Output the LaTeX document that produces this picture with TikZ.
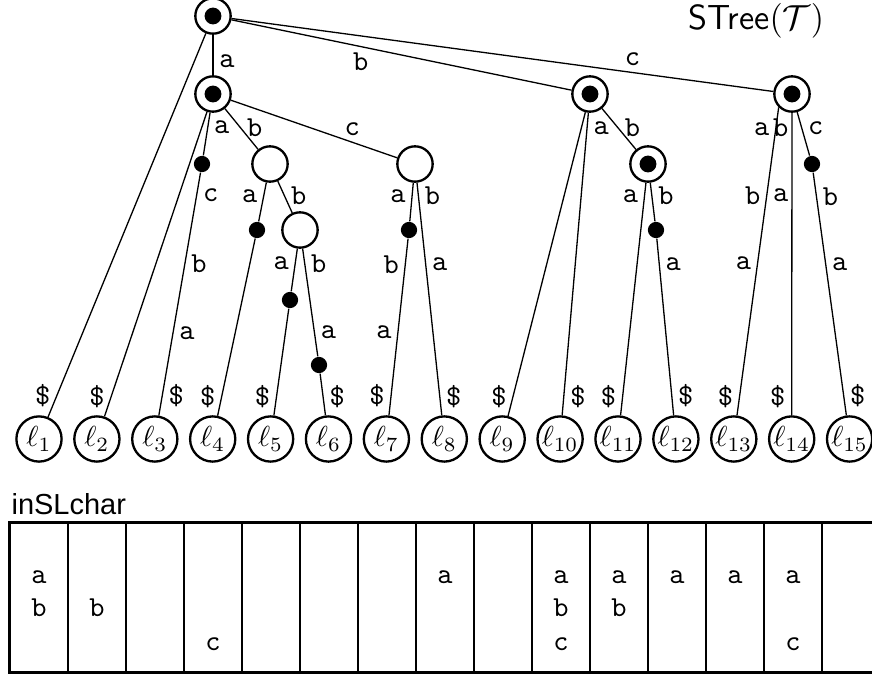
\documentclass[tikz,border=0pt]{standalone}
\usepackage{fontspec}
\newfontfamily\helv{Liberation Sans}
\begin{document}
\begin{tikzpicture}[x=0.345pt, y=-0.345pt,
                    stnode/.style={circle, draw=black, thick, minimum size=12.2pt, inner sep=0pt,
                                   path picture={\fill (path picture bounding box.center) circle (2.9pt);}},
                    hollow/.style={circle, draw=black, thick, minimum size=12.2pt, inner sep=0pt},
                    bead/.style={circle, fill=black, minimum size=5.6pt, inner sep=0pt},
                    leaf/.style={circle, draw=black, thick, minimum size=15.6pt, inner sep=0pt},
                    lbl/.style={font=\ttfamily, inner sep=2pt},
                    slot/.style={draw=black, thin, minimum width=20pt, minimum height=51.4pt, inner sep=0pt},
                    chr/.style={font=\ttfamily, inner sep=0pt, anchor=base},
                    every edge/.style={draw, line width=0.45pt}
                ]
                \useasboundingbox (0,0) rectangle (872,676);

                % Branching nodes
                \node[stnode] (R) at (213,16) {};
                \node[stnode] (A) at (213,94) {};
                \node[stnode] (B) at (590,94) {};
                \node[stnode] (C) at (792,94) {};
                \node[hollow] (Ab) at (270,164) {};
                \node[hollow] (Ac) at (415,164) {};
                \node[stnode] (Bb) at (648,164) {};
                \node[hollow] (Abb) at (300,230) {};

                % Implicit nodes
                \node[bead] (d1) at (202,164) {};
                \node[bead] (d7) at (812,164) {};
                \node[bead] (d2) at (257,230) {};
                \node[bead] (d5) at (409,230) {};
                \node[bead] (d6) at (656,230) {};
                \node[bead] (d3) at (290,300) {};
                \node[bead] (d4) at (319,365) {};

                % Leaves
                \foreach \i in {1,...,15}
                    \node[leaf] (L\i) at ({39+57.9*(\i-1)},439) {$\ell_{\i}$};

                \node[font=\large\sffamily, anchor=base west, inner sep=0pt] (stree) at (688,29) {STree$(\mathcal{T})$};

                % Edges from the root
                \draw (R) edge node[lbl, pos=0.65, right] {a} (A);
                \draw (R) edge node[lbl, pos=0.38, below] {b} (B);
                \draw (R) edge node[lbl, pos=0.74, above] {c} (C);
                \draw (R) edge node[lbl, pos=0.945, left] {\$} (L1);

                % Subtree a
                \draw (A) edge node[lbl, pos=0.935, left] {\$} (L2);
                \draw (A) edge node[lbl, pos=0.35, right] {a} (d1);
                \draw (d1) edge node[lbl, pos=0.095, right] {c} node[lbl, pos=0.377, right] {b}
                               node[lbl, pos=0.66, right] {a} node[lbl, pos=0.92, right] {\$} (L3);
                \draw (A) edge node[lbl, pos=0.476, right] {b} (Ab);
                \draw (Ab) edge node[lbl, pos=0.34, left] {a} (d2);
                \draw (d2) edge node[lbl, pos=0.89, left] {\$} (L4);
                \draw (Ab) edge node[lbl, pos=0.47, right] {b} (Abb);
                \draw (Abb) edge node[lbl, pos=0.35, left] {a} (d3);
                \draw (d3) edge node[lbl, pos=0.82, left] {\$} (L5);
                \draw (Abb) edge node[lbl, pos=0.14, right] {b} node[lbl, pos=0.78, right] {a} (d4);
                \draw (d4) edge node[lbl, pos=0.56, right] {\$} (L6);
                \draw (A) edge node[lbl, pos=0.73, above] {c} (Ac);
                \draw (Ac) edge node[lbl, pos=0.34, left] {a} (d5);
                \draw (d5) edge node[lbl, pos=0.146, left] {b} node[lbl, pos=0.53, left] {a}
                               node[lbl, pos=0.89, left] {\$} (L7);
                \draw (Ac) edge node[lbl, pos=0.056, right] {b} node[lbl, pos=0.35, right] {a}
                               node[lbl, pos=0.92, right] {\$} (L8);

                % Subtree b
                \draw (B) edge node[lbl, pos=0.935, left] {\$} (L9);
                \draw (B) edge node[lbl, pos=0.05, right] {a} node[lbl, pos=0.937, right] {\$} (L10);
                \draw (B) edge node[lbl, pos=0.48, right] {b} (Bb);
                \draw (Bb) edge node[lbl, pos=0.056, left] {a} node[lbl, pos=0.92, left] {\$} (L11);
                \draw (Bb) edge node[lbl, pos=0.33, right] {b} (d6);
                \draw (d6) edge node[lbl, pos=0.146, right] {a} node[lbl, pos=0.89, right] {\$} (L12);

                % Subtree c
                \draw (C.south west) edge node[lbl, pos=0.07, left] {a} node[lbl, pos=0.287, left] {b}
                              node[lbl, pos=0.507, left] {a} node[lbl, pos=0.938, left] {\$} (L13);
                \draw (C) edge node[lbl, inner sep=1pt, pos=0.05, left] {b} node[lbl, inner sep=1pt, pos=0.274, left] {a}
                              node[lbl, pos=0.937, left] {\$} (L14);
                \draw (C) edge node[lbl, pos=0.36, right] {c} (d7);
                \draw (d7) edge node[lbl, pos=0.1, right] {b} node[lbl, pos=0.377, right] {a}
                               node[lbl, pos=0.92, right] {\$} (L15);

                % Table
                \node[font=\helv, anchor=base west, inner sep=0pt] (insl) at (11,514) {inSLchar};
                \foreach \i in {1,...,15}
                    \node[slot] (s\i) at ({39+58*(\i-1)},597.5) {};
                \draw[thick] (s1.north west) rectangle (s15.south east);
                \foreach \c/\r/\ch in {1/1/a, 1/2/b, 2/2/b, 4/3/c, 8/1/a, 10/1/a, 10/2/b, 10/3/c,
                                       11/1/a, 11/2/b, 12/1/a, 13/1/a, 14/1/a, 14/3/c}
                    \node[chr] (t\c-\r) at ({39+58*(\c-1)},{583+33.5*(\r-1)}) {\ch};
            \end{tikzpicture}
\end{document}
